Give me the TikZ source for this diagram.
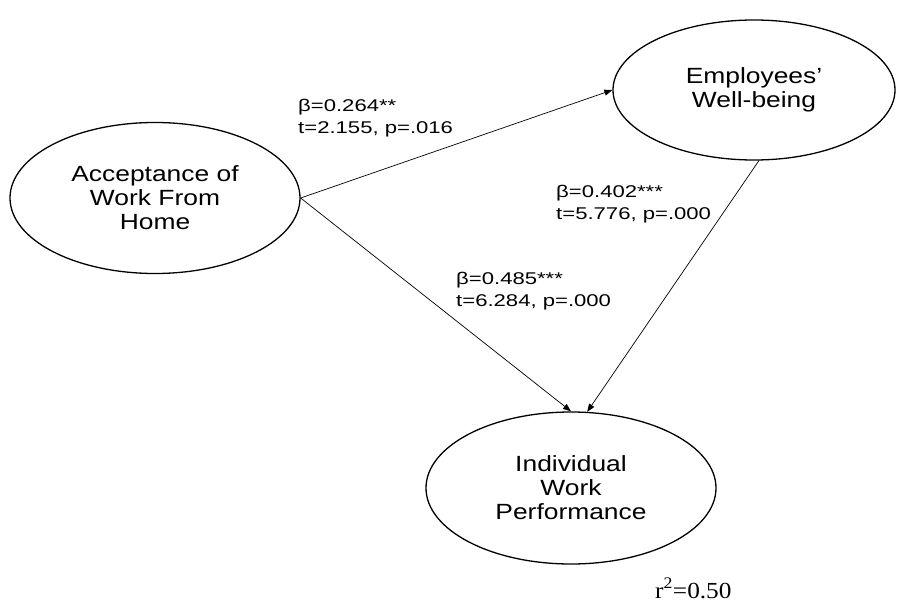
\documentclass[tikz,border=0pt]{standalone}
\usepackage{fontspec}
\setmainfont{Liberation Sans}
\newfontfamily\nodefont[FakeStretch=1.2]{Liberation Sans}
\newfontfamily\labfont[FakeStretch=1.3]{Liberation Sans}
\newfontfamily\serifx[FakeStretch=1.1]{Liberation Serif}
\usetikzlibrary{shapes.geometric,arrows.meta}
\begin{document}
\begin{tikzpicture}[x=1pt,y=-1pt,
  latent/.style={ellipse,draw,line width=1.3pt,inner sep=0pt,align=center,
    font=\nodefont\fontsize{22}{24}\selectfont},
  pathline/.style={line width=0.7pt,-{Triangle[length=8pt,width=6pt]}},
  coef/.style={anchor=north west,align=left,inner sep=0pt,
    font=\labfont\fontsize{17}{21.7}\selectfont}]
\useasboundingbox[fill=white] (0,0) rectangle (897,602);
\node[latent,minimum width=290pt,minimum height=151pt] (A) at (155,198) {Acceptance of\\Work From\\Home};
\node[latent,minimum width=282pt,minimum height=140pt] (W) at (754,90) {Employees’\\Well-being};
\node[latent,minimum width=290pt,minimum height=152pt] (B) at (571,488) {Individual\\Work\\Performance};
\draw[pathline] (A.east) -- (W.west);
\draw[pathline] (A.east) -- (B.north);
\draw[pathline] (W.-86) -- (B.78);
\node[coef] (c1) at (298,99) {β=0.264**\\t=2.155, p=.016};
\node[coef] (c2) at (556,185) {β=0.402***\\t=5.776, p=.000};
\node[coef] (c3) at (456,272) {β=0.485***\\t=6.284, p=.000};
\node[anchor=base west,inner sep=0pt,font=\serifx\fontsize{23}{26}\selectfont] (r2) at (655,598) {r\textsuperscript{2}=0.50};
\end{tikzpicture}
\end{document}
